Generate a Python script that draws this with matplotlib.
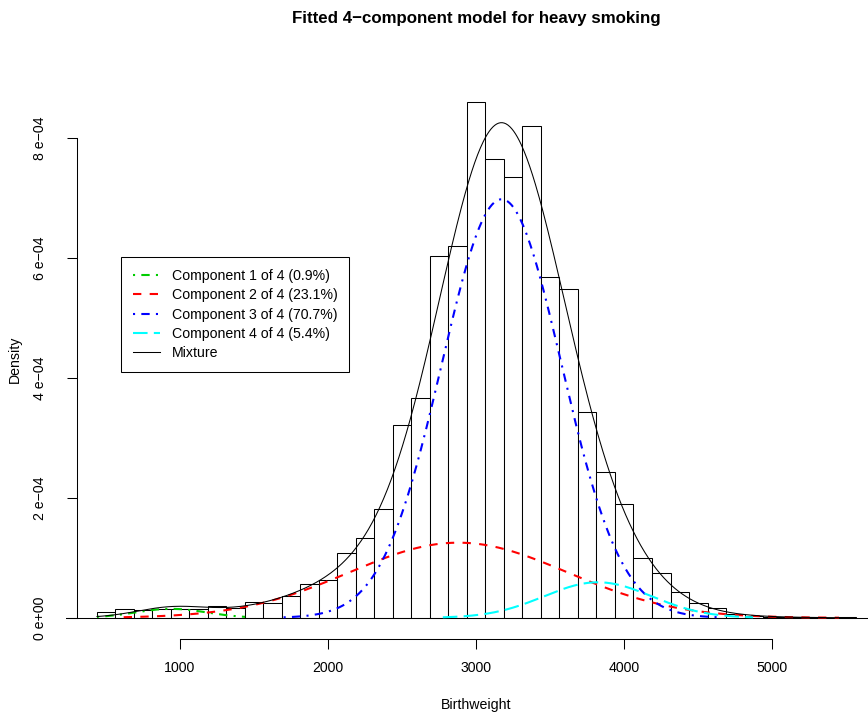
import numpy as np
import matplotlib
matplotlib.use('Agg')
import matplotlib.pyplot as plt

plt.rcParams['font.family'] = ['Liberation Sans', 'DejaVu Sans']

# histogram: bins of width 125 starting at 437.5, density per bin
bin_start = 437.5
bin_width = 125
density = np.array([
    0.09, 0.15, 0.13, 0.145, 0.145, 0.155, 0.20, 0.16, 0.26, 0.24,
    0.37, 0.57, 0.63, 1.08, 1.33, 1.82, 3.21, 3.66, 6.03, 6.20,
    8.61, 7.65, 7.36, 8.21, 5.69, 5.49, 3.43, 2.43, 1.90, 1.00,
    0.745, 0.43, 0.25, 0.16, 0.065, 0.03, 0.015, 0.008, 0.008, 0.0,
    0.008]) * 1e-4

# fitted normal components
comp_labels = ['Component 1 of 4 (0.9%)', 'Component 2 of 4 (23.1%)',
               'Component 3 of 4 (70.7%)', 'Component 4 of 4 (5.4%)']
comp_weights = [0.009, 0.231, 0.707, 0.054]
comp_means = [940, 2880, 3172, 3822]
comp_sds = [239, 735, 404, 363]
comp_from = [440, 620, 1700, 2775]
comp_to = [1440, 5450, 4640, 4870]
comp_colors = ['#00CD00', '#FF0000', '#0000FF', '#00FFFF']
comp_dashes = [(1, 3, 4, 3), (4, 4), (1, 3, 4, 3), (7, 3)]
mix_from, mix_to = 440, 5560

x_ticks = [1000, 2000, 3000, 4000, 5000]
y_ticks = [0, 2e-4, 4e-4, 6e-4, 8e-4]
y_ticklabels = ['0 e+00', '2 e\u221204', '4 e\u221204', '6 e\u221204', '8 e\u221204']


def comp_pdf(x, w, m, s):
    return w * np.exp(-0.5 * ((x - m) / s) ** 2) / (s * np.sqrt(2 * np.pi))


W, H = 868, 713
fig = plt.figure(figsize=(W / 100, H / 100), dpi=100)
L, R, T, B = 66.3, 886.0, 81.0, 638.5
ax = fig.add_axes([L / W, 1 - B / H, (R - L) / W, (B - T) / H])

edges = bin_start + bin_width * np.arange(len(density) + 1)
ax.bar(edges[:-1], density, width=bin_width, align='edge', color='white',
       edgecolor='black', linewidth=0.75, zorder=2)
ax.axhline(0, color='black', linewidth=0.75, zorder=3)

handles = []
for i in range(4):
    xs = np.linspace(comp_from[i], comp_to[i], 400)
    ln, = ax.plot(xs, comp_pdf(xs, comp_weights[i], comp_means[i], comp_sds[i]),
                  color=comp_colors[i], linewidth=1.5, dashes=comp_dashes[i], zorder=4)
    handles.append(ln)

xs = np.linspace(mix_from, mix_to, 800)
mix = sum(comp_pdf(xs, comp_weights[i], comp_means[i], comp_sds[i]) for i in range(4))
ln, = ax.plot(xs, mix, color='black', linewidth=0.75, zorder=5)
handles.append(ln)

span = edges[-1] - edges[0]
ax.set_xlim(edges[0] - 0.04 * span, edges[-1] + 0.04 * span)
ax.set_ylim(-0.04 * density.max(), 1.04 * density.max())

for s in ['top', 'right']:
    ax.spines[s].set_visible(False)
ax.spines['left'].set_position(('data', 302.5))
ax.spines['left'].set_bounds(0, 8e-4)
ax.spines['bottom'].set_bounds(1000, 5000)
for s in ['left', 'bottom']:
    ax.spines[s].set_linewidth(0.75)

ax.set_xticks(x_ticks)
ax.set_xticklabels([str(v) for v in x_ticks])
ax.set_yticks(y_ticks)
ax.set_yticklabels(y_ticklabels, rotation=90, va='center', ha='right')
ax.tick_params(axis='both', direction='out', length=7.2, width=0.75, labelsize=10.2)
ax.tick_params(axis='x', pad=9.3)
ax.tick_params(axis='y', pad=14)

ax.set_xlabel('Birthweight', fontsize=10.2, va='center')
ax.xaxis.set_label_coords(0.5, (B - 705) / (B - T))
ax.set_ylabel('Density', fontsize=10.2, va='center')
ax.yaxis.set_label_coords((15 - L) / (R - L), 0.5)
ax.set_title('Fitted 4\u2212component model for heavy smoking', fontsize=12.2,
             fontweight='bold', y=(B - 18) / (B - T), va='center', pad=0)

leg = ax.legend(handles, comp_labels + ['Mixture'], loc='upper left',
                bbox_to_anchor=(120.7 / W, 1 - 257.3 / H), bbox_transform=fig.transFigure,
                borderaxespad=0, fancybox=False, edgecolor='black', framealpha=1,
                fontsize=10.2, handlelength=1.9, handletextpad=0.85,
                borderpad=0.85, labelspacing=0.36)
leg.get_frame().set_linewidth(0.75)

fig.savefig('out.png', dpi=100)
